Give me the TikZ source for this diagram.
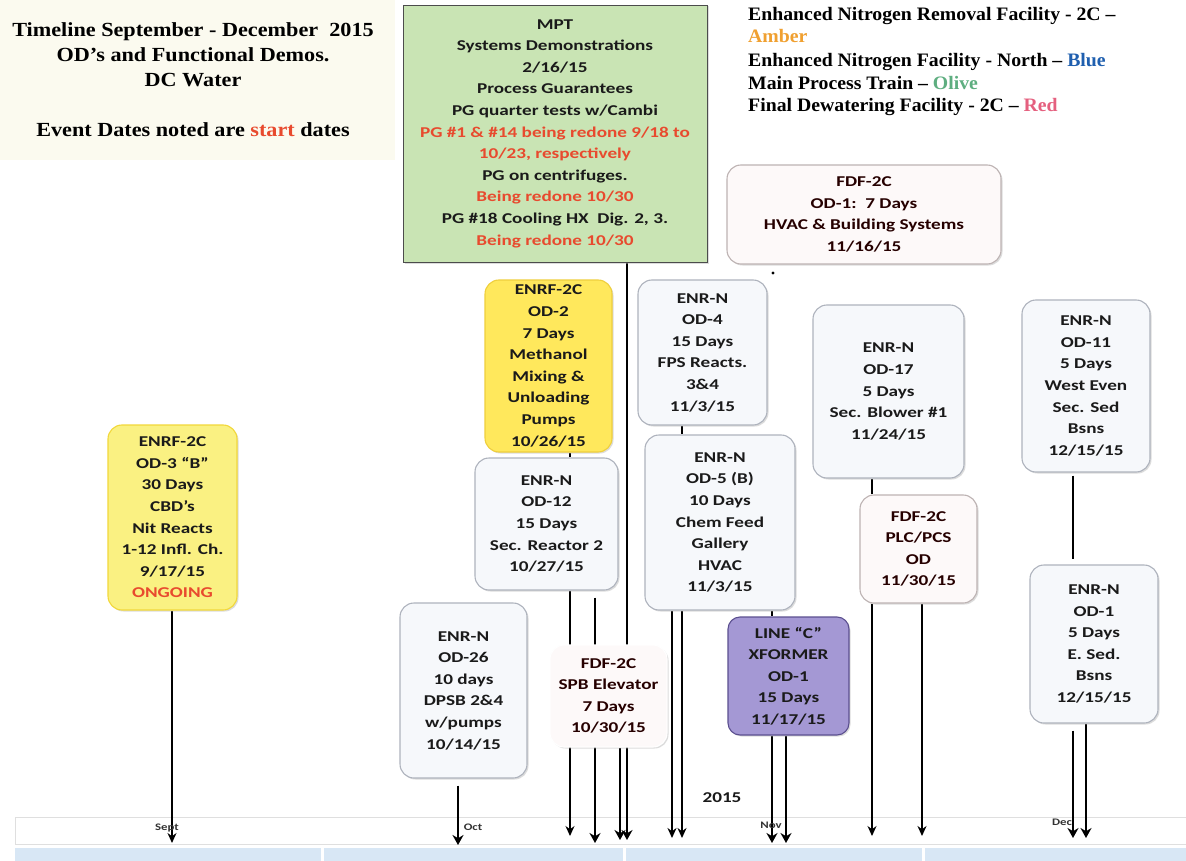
\documentclass[tikz,border=0pt]{standalone}
\usepackage{fontspec}
\setmainfont{Liberation Serif}
\newfontfamily\boxfont[FakeStretch=1.28]{Carlito}
\newfontfamily\ttlfont[FakeStretch=1.11]{Liberation Serif}
\newfontfamily\legfont[FakeStretch=1.04]{Liberation Serif}
\usetikzlibrary{arrows.meta,shadows}
\definecolor{mptgreen}{HTML}{C9E4B4}
\definecolor{wfill}{HTML}{F6F8FB}
\definecolor{wline}{HTML}{AEB3BD}
\definecolor{yfillA}{HTML}{FAF182}
\definecolor{ylineA}{HTML}{F2D83A}
\definecolor{yfillB}{HTML}{FFE85C}
\definecolor{ylineB}{HTML}{EFCF3C}
\definecolor{pfill}{HTML}{A498D4}
\definecolor{pline}{HTML}{5B4F8F}
\definecolor{ffill}{HTML}{FDF9F9}
\definecolor{fline}{HTML}{BDB3B3}
\definecolor{redtxt}{HTML}{E84A2E}
\definecolor{ambertxt}{HTML}{F0A030}
\definecolor{bluetxt}{HTML}{1F5FAF}
\definecolor{olivetxt}{HTML}{5EAE80}
\definecolor{rdtxt}{HTML}{E5607F}
\definecolor{tlblue}{HTML}{D8E7F5}
\definecolor{cream}{HTML}{FBFAEF}
\definecolor{boxtxt}{HTML}{1A1A1A}
\pgfdeclarelayer{bg}
\pgfdeclarelayer{ln}
\pgfsetlayers{bg,ln,main}
\begin{document}
\begin{tikzpicture}[x=1pt,y=-1pt,
  box/.style={draw, line width=1.1pt, align=center, inner sep=0pt, text=boxtxt,
    font=\boxfont\bfseries\fontsize{15}{21.6}\selectfont,
    drop shadow={shadow xshift=1.5pt, shadow yshift=-1.5pt, fill=gray!60, opacity=0.45}},
  wbox/.style={box, rounded corners=14pt, fill=wfill, draw=wline},
  ybox/.style={box, rounded corners=14pt, fill=yfillA, draw=ylineA},
  yboxb/.style={box, rounded corners=14pt, fill=yfillB, draw=ylineB},
  fbox/.style={box, rounded corners=14pt, fill=ffill, draw=fline, text=black!85!red},
  pbox/.style={box, rounded corners=12pt, fill=pfill, draw=pline},
  gbox/.style={box, fill=mptgreen, draw=gray!60!black, line width=0.9pt},
  arr/.style={-{Stealth[length=10pt,width=9pt]}, line width=1.1pt},
  arrthick/.style={-{Stealth[length=10pt,width=11pt]}, line width=2pt},
  tick/.style={line width=1.1pt},
  ttl/.style={font=\ttlfont\bfseries\fontsize{20}{25}\selectfont, anchor=base, inner sep=0pt},
  leg/.style={font=\legfont\bfseries\fontsize{19}{22}\selectfont, anchor=base west, inner sep=0pt},
  month/.style={font=\boxfont\bfseries\fontsize{10}{10}\selectfont, text=black!80, inner sep=0pt}
]
\useasboundingbox (0,0) rectangle (1186,861);
\begin{pgfonlayer}{bg}
\fill[white] (0,0) rectangle (1186,861);
\fill[cream] (0,0) rectangle (395,160);
\end{pgfonlayer}

% title
\node[ttl] (t1) at (193,37) {Timeline September - December\ \ 2015};
\node[ttl] (t2) at (193,62) {OD’s and Functional Demos.};
\node[ttl] (t3) at (193,87) {DC Water};
\node[ttl] (t4) at (193,137) {Event Dates noted are \textcolor{redtxt}{start} dates};

% legend
\node[leg] (l1) at (748,21) {Enhanced Nitrogen Removal Facility - 2C –};
\node[leg, text=ambertxt] (l2) at (748,43) {Amber};
\node[leg] (l3) at (748,67) {Enhanced Nitrogen Facility - North – \textcolor{bluetxt}{Blue}};
\node[leg] (l4) at (748,90) {Main Process Train – \textcolor{olivetxt}{Olive}};
\node[leg] (l5) at (748,112) {Final Dewatering Facility - 2C – \textcolor{rdtxt}{Red}};

% timeline bar
\begin{pgfonlayer}{bg}
\fill[white] (15,817) rectangle (1186,844);
\draw[gray!25, line width=0.8pt] (15,817) rectangle (1186,844);
\fill[tlblue] (15,848) rectangle (321,861);
\fill[tlblue] (324,848) rectangle (623,861);
\fill[tlblue] (626,848) rectangle (922,861);
\fill[tlblue] (925,848) rectangle (1186,861);
\end{pgfonlayer}
\node[month] (sept) at (167,828) {Sept};
\node[month] (oct) at (473,827) {Oct};
\node[month] (nov) at (771,825) {Nov};
\node[month] (dec) at (1062,822) {Dec};
\node[font=\boxfont\bfseries\fontsize{15}{15}\selectfont, text=boxtxt, inner sep=0pt] (yr) at (722,798) {2015};

% boxes
\node[gbox, minimum width=304pt, minimum height=257pt] (mpt) at (555,133.5)
  {MPT\\Systems Demonstrations\\2/16/15\\Process Guarantees\\PG quarter tests w/Cambi\\
   \textcolor{redtxt}{PG \#1 \& \#14 being redone 9/18 to}\\\textcolor{redtxt}{10/23, respectively}\\
   PG on centrifuges.\\\textcolor{redtxt}{Being redone 10/30}\\PG \#18 Cooling HX\ \ Dig. 2, 3.\\
   \textcolor{redtxt}{Being redone 10/30}};
\node[fbox, minimum width=274pt, minimum height=99pt] (fdf1) at (864,214.5)
  {FDF-2C\\OD-1:\ \ 7 Days\\HVAC \& Building Systems\\11/16/15};
\node[yboxb, minimum width=127pt, minimum height=172pt] (od2) at (548.5,366)
  {ENRF-2C\\OD-2\\7 Days\\Methanol\\Mixing \&\\Unloading\\Pumps\\10/26/15};
\node[wbox, minimum width=129pt, minimum height=145pt] (od4) at (702.5,352.5)
  {ENR-N\\OD-4\\15 Days\\FPS Reacts.\\3\&4\\11/3/15};
\node[wbox, minimum width=143pt, minimum height=132pt] (od12) at (546.5,524)
  {ENR-N\\OD-12\\15 Days\\Sec. Reactor 2\\10/27/15};
\node[wbox, minimum width=150pt, minimum height=175pt] (od5) at (720,522.5)
  {ENR-N\\OD-5 (B)\\10 Days\\Chem Feed\\Gallery\\HVAC\\11/3/15};
\node[wbox, minimum width=151pt, minimum height=173pt] (od17) at (888.5,391.5)
  {ENR-N\\OD-17\\5 Days\\Sec. Blower \#1\\11/24/15};
\node[wbox, minimum width=128pt, minimum height=172pt] (od11) at (1086,386)
  {ENR-N\\OD-11\\5 Days\\West Even\\Sec. Sed\\Bsns\\12/15/15};
\node[ybox, minimum width=129pt, minimum height=185pt] (od3) at (172.5,517.5)
  {ENRF-2C\\OD-3 “B”\\30 Days\\CBD’s\\Nit Reacts\\1-12 Infl. Ch.\\9/17/15\\\textcolor{redtxt}{ONGOING}};
\node[fbox, minimum width=117pt, minimum height=108pt] (plc) at (918.5,549)
  {FDF-2C\\PLC/PCS\\OD\\11/30/15};
\node[wbox, minimum width=127pt, minimum height=175pt] (od26) at (463.5,690.5)
  {ENR-N\\OD-26\\10 days\\DPSB 2\&4\\w/pumps\\10/14/15};
\node[fbox, draw=white, minimum width=117pt, minimum height=102pt] (spb) at (608.5,696)
  {FDF-2C\\SPB Elevator\\7 Days\\10/30/15};
\node[pbox, minimum width=121pt, minimum height=118pt] (lc) at (788.5,676)
  {LINE “C”\\XFORMER\\OD-1\\15 Days\\11/17/15};
\node[wbox, minimum width=128pt, minimum height=158pt] (od1) at (1094,644)
  {ENR-N\\OD-1\\5 Days\\E. Sed.\\Bsns\\12/15/15};

% arrow end points
\coordinate (e1) at (172,843);
\coordinate (e2) at (458,845);
\coordinate (e3) at (570,836);
\coordinate (e4) at (595,843);
\coordinate (e5) at (620,840);
\coordinate (e6) at (627,840);
\coordinate (e7) at (672,838);
\coordinate (e8) at (682,838);
\coordinate (e9) at (772,843);
\coordinate (e10) at (786,843);
\coordinate (e11) at (872,836);
\coordinate (e12) at (922,836);
\coordinate (e13) at (1073,838);
\coordinate (e14) at (1086,838);
\coordinate (dot) at (773,273);

\begin{pgfonlayer}{ln}
\draw[arr, line width=1.5pt] (od3.south -| e1) -- (e1);
\draw[arrthick] ([yshift=-7pt]od26.south -| e2) -- (e2);
\draw[arr] (od12.south -| e3) -- (e3);
\draw[arrthick] ([yshift=-7pt]od12.south -| e4) -- (e4);
\draw[arrthick] (spb.south -| e5) -- (e5);
\draw[arrthick] (mpt.south -| e6) -- (e6);
\draw[arr, line width=1.6pt] (od5.south -| e7) -- (e7);
\draw[arr, line width=1.6pt] (od5.south -| e8) -- (e8);
\draw[arrthick] (lc.south -| e9) -- (e9);
\draw[arrthick] (lc.south -| e10) -- (e10);
\draw[arr] (plc.south -| e11) -- (e11);
\draw[arr, line width=1.6pt] (plc.south -| e12) -- (e12);
\draw[arrthick] ([yshift=-7pt]od1.south -| e13) -- (e13);
\draw[arrthick] (od1.south -| e14) -- (e14);
% connectors between boxes
\draw[tick] (od2.south -| e3) -- (od12.north -| e3);
\draw[tick] (od4.south -| e8) -- (od5.north -| e8);
\draw[tick] (od5.south -| e9) -- (lc.north -| e9);
\draw[tick] (od17.south -| e11) -- (plc.north -| e11);
\draw[line width=2pt] ([yshift=-3pt]od11.south -| e13) -- ([yshift=5pt]od1.north -| e13);
\fill (dot) circle (1.6pt);
\end{pgfonlayer}
\end{tikzpicture}
\end{document}
